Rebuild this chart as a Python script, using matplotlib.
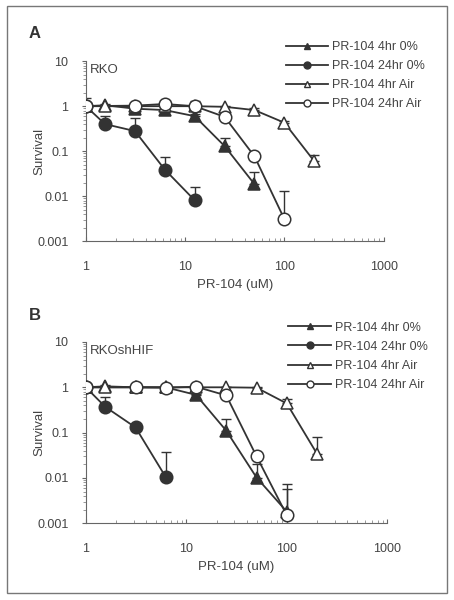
import numpy as np
import matplotlib
matplotlib.use("Agg")
import matplotlib.pyplot as plt
from matplotlib.patches import Rectangle

plt.rcParams['font.family'] = ['Liberation Sans', 'DejaVu Sans']

# concentrations (uM)
conc = [1, 1.5625, 3.125, 6.25, 12.5, 25, 50, 100, 200]

# panel A - RKO
a_4h_hyp_x = [1, 1.5625, 3.125, 6.25, 12.5, 25, 50]
a_4h_hyp_y = [1.0, 1.05, 0.88, 0.82, 0.6, 0.13, 0.0185]
a_4h_hyp_err = [1.0, 1.1, 0.95, 0.9, 0.68, 0.2, 0.034]

a_24h_hyp_x = [1, 1.5625, 3.125, 6.25, 12.5]
a_24h_hyp_y = [1.0, 0.4, 0.28, 0.039, 0.0081]
a_24h_hyp_err = [1.0, 0.62, 0.56, 0.075, 0.016]

a_4h_air_x = [1, 1.5625, 3.125, 6.25, 12.5, 25, 50, 100, 200]
a_4h_air_y = [1.0, 1.0, 1.0, 1.0, 1.0, 0.97, 0.82, 0.43, 0.06]
a_4h_air_err = [1.0, 1.0, 1.05, 1.05, 1.1, 1.0, 0.9, 0.47, 0.081]

a_24h_air_x = [1, 3.125, 6.25, 12.5, 25, 50, 100]
a_24h_air_y = [1.0, 1.03, 1.12, 1.0, 0.58, 0.077, 0.0031]
a_24h_air_err = [1.55, 1.1, 1.15, 1.3, 0.6, 0.08, 0.013]

# panel B - RKOshHIF
b_4h_hyp_x = [1, 1.5625, 3.125, 6.25, 12.5, 25, 50, 100]
b_4h_hyp_y = [1.0, 1.05, 1.0, 1.0, 0.68, 0.11, 0.0102, 0.0018]
b_4h_hyp_err = [1.0, 1.1, 1.0, 1.0, 0.72, 0.2, 0.02, 0.0058]

b_24h_hyp_x = [1, 1.5625, 3.125, 6.25]
b_24h_hyp_y = [1.0, 0.37, 0.13, 0.0104]
b_24h_hyp_err = [1.0, 0.62, 0.13, 0.037]

b_4h_air_x = [1, 1.5625, 3.125, 6.25, 12.5, 25, 50, 100, 200]
b_4h_air_y = [1.0, 1.0, 1.0, 1.0, 1.0, 1.0, 0.98, 0.44, 0.034]
b_4h_air_err = [1.0, 1.0, 1.0, 1.0, 1.0, 1.0, 1.0, 0.54, 0.078]

b_24h_air_x = [1, 3.125, 6.25, 12.5, 25, 50, 100]
b_24h_air_y = [1.0, 1.0, 0.98, 1.03, 0.66, 0.03, 0.0015]
b_24h_air_err = [1.0, 1.0, 1.0, 1.05, 0.66, 0.03, 0.0074]

labels = ["PR-104 4hr 0%", "PR-104 24hr 0%", "PR-104 4hr Air", "PR-104 24hr Air"]
line_col = "#333333"
text_col = "#444444"

fig = plt.figure(figsize=(4.54, 6.0), dpi=100)
fig.patches.append(Rectangle((7 / 454, 7 / 600), 440 / 454, 587 / 600, transform=fig.transFigure,
                             fill=False, edgecolor="#777777", lw=1.0))


def draw(ax, series, name):
    styles = [("^", line_col), ("o", line_col), ("^", "white"), ("o", "white")]
    for (x, y, e), (m, fc), lab in zip(series, styles, labels):
        x = np.array(x)
        y = np.array(y)
        up = np.clip(np.array(e) - y, 0, None)
        ax.errorbar(x, y, yerr=[np.zeros_like(up), up], fmt="none", ecolor=line_col,
                    elinewidth=1.0, capsize=3.5, capthick=1.0, zorder=2)
        ax.plot(x, y, color=line_col, lw=1.3, zorder=3)
        ax.plot(x, y, ls="none", marker=m, ms=9 if m == "o" else 8.5, mfc=fc, mec=line_col,
                mew=1.1, zorder=4)
    # legend handles
    handles = []
    for (m, fc) in styles:
        h, = ax.plot([], [], color=line_col, lw=1.3, marker=m, ms=5, mfc=fc, mec=line_col, mew=1.0)
        handles.append(h)
    leg = ax.legend(handles, labels, loc="upper left", bbox_to_anchor=(0.655, 1.14), frameon=False,
                    fontsize=9, handlelength=3.4, handletextpad=0.3, labelspacing=0.57,
                    borderaxespad=0)
    for t in leg.get_texts():
        t.set_color(text_col)
    ax.set_xscale("log")
    ax.set_yscale("log")
    ax.set_xlim(1, 1000)
    ax.set_ylim(0.001, 10)
    ax.set_xticks([1, 10, 100, 1000])
    ax.set_xticklabels(["1", "10", "100", "1000"])
    ax.set_yticks([0.001, 0.01, 0.1, 1, 10])
    ax.set_yticklabels(["0.001", "0.01", "0.1", "1", "10"])
    for s in ["top", "right"]:
        ax.spines[s].set_visible(False)
    for s in ["left", "bottom"]:
        ax.spines[s].set_color("#666666")
        ax.spines[s].set_linewidth(0.8)
    ax.tick_params(axis="both", which="major", labelsize=9, colors="#666666", labelcolor=text_col,
                   length=3, width=0.8)
    ax.tick_params(axis="x", which="both", direction="in", pad=14.5)
    ax.tick_params(axis="y", which="both", direction="out", pad=9.5)
    ax.tick_params(axis="both", which="minor", length=2, width=0.6, colors="#888888")
    ax.yaxis.set_minor_locator(matplotlib.ticker.LogLocator(subs=np.arange(2, 10)))
    ax.yaxis.set_minor_formatter(matplotlib.ticker.NullFormatter())
    ax.set_xlabel("PR-104 (uM)", fontsize=9.5, color=text_col, labelpad=4)
    ax.set_ylabel("Survival", fontsize=9.5, color=text_col)
    ax.yaxis.set_label_coords(-0.135, 0.5)
    ax.text(0.015, 0.985, name, transform=ax.transAxes, fontsize=9.5, color=text_col, va="top")


ax1 = fig.add_axes([0.189, 0.598, 0.656, 0.300])
draw(ax1, [(a_4h_hyp_x, a_4h_hyp_y, a_4h_hyp_err), (a_24h_hyp_x, a_24h_hyp_y, a_24h_hyp_err),
           (a_4h_air_x, a_4h_air_y, a_4h_air_err), (a_24h_air_x, a_24h_air_y, a_24h_air_err)], "RKO")
fig.text(29 / 454, 1 - 34 / 600, "A", fontsize=12, fontweight="bold", color="#333333", va="center")

ax2 = fig.add_axes([0.189, 0.128, 0.664, 0.302])
draw(ax2, [(b_4h_hyp_x, b_4h_hyp_y, b_4h_hyp_err), (b_24h_hyp_x, b_24h_hyp_y, b_24h_hyp_err),
           (b_4h_air_x, b_4h_air_y, b_4h_air_err), (b_24h_air_x, b_24h_air_y, b_24h_air_err)], "RKOshHIF")
fig.text(29 / 454, 1 - 315 / 600, "B", fontsize=12, fontweight="bold", color="#333333", va="center")

fig.savefig("out.png", dpi=100)
